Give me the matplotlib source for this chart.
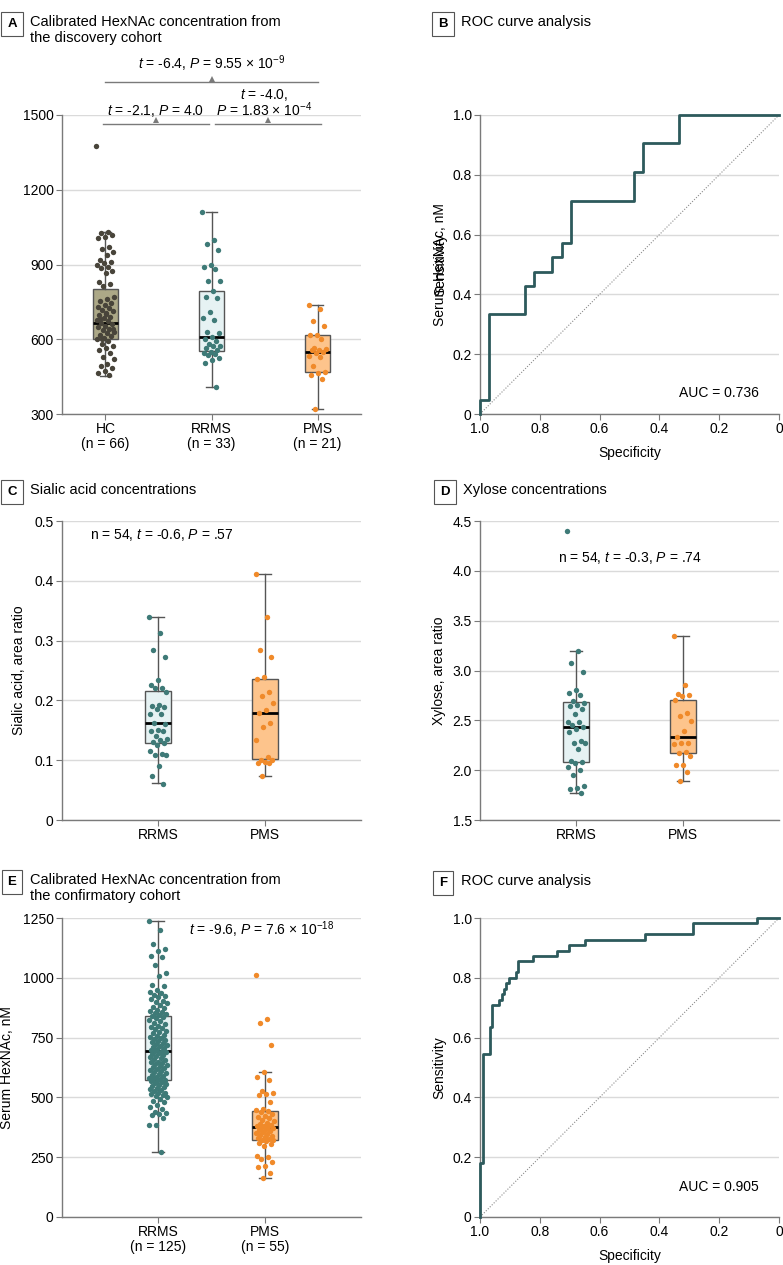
import numpy as np
import matplotlib
matplotlib.use("Agg")
import matplotlib.pyplot as plt

plt.rcParams['font.family'] = ['Liberation Sans', 'DejaVu Sans']
plt.rcParams['mathtext.fontset'] = 'custom'
plt.rcParams['mathtext.rm'] = 'Liberation Sans'
plt.rcParams['mathtext.it'] = 'Liberation Sans:italic'
plt.rcParams['font.size'] = 10

# ---- panel A: discovery cohort, HexNAc (nM)
a_labels = ['HC\n(n = 66)', 'RRMS\n(n = 33)', 'PMS\n(n = 21)']
a_hc = [1374, 1030, 1025, 1018, 1012, 1005, 970, 962, 950, 940, 918, 912, 905, 898, 890,
        885, 875, 865, 828, 820, 815, 770, 762, 755, 745, 738, 730, 725, 718, 712, 705,
        698, 690, 684, 678, 672, 666, 660, 655, 648, 642, 636, 630, 624, 618, 612, 606,
        600, 594, 580, 572, 565, 556, 545, 530, 522, 500, 492, 485, 472, 465, 455, 602,
        640, 700, 680]
a_rrms = [1112, 998, 982, 957, 898, 889, 882, 834, 833, 794, 769, 766, 710, 685, 676, 629,
          625, 608, 601, 592, 581, 574, 572, 565, 556, 548, 545, 542, 538, 525, 518, 505, 409]
a_pms = [736, 722, 675, 652, 618, 616, 601, 565, 561, 558, 556, 550, 545, 534, 527, 494,
         467, 465, 457, 441, 321]
# whisker low, q1, median, q3, whisker high
a_stats = [(451, 601, 665, 803, 1032), (409, 553, 608, 793, 1112), (321, 467, 550, 616, 736)]

# ---- panel B: ROC, discovery cohort
b_spec = [1.0, 1.0, 0.970, 0.848, 0.818, 0.758, 0.727, 0.697, 0.485, 0.455, 0.333, 0.0]
b_sens = [0.0, 0.048, 0.333, 0.429, 0.476, 0.524, 0.571, 0.714, 0.810, 0.905, 1.0, 1.0]

# ---- panel C: sialic acid (area ratio)
c_labels = ['RRMS', 'PMS']
c_rrms = [0.340, 0.313, 0.285, 0.272, 0.234, 0.225, 0.221, 0.221, 0.214, 0.193, 0.190,
          0.189, 0.185, 0.178, 0.178, 0.162, 0.161, 0.151, 0.149, 0.148, 0.141, 0.135,
          0.133, 0.130, 0.128, 0.126, 0.115, 0.110, 0.109, 0.109, 0.091, 0.074, 0.061]
c_pms = [0.411, 0.339, 0.285, 0.272, 0.239, 0.236, 0.214, 0.207, 0.195, 0.184, 0.179,
         0.163, 0.155, 0.133, 0.105, 0.101, 0.100, 0.097, 0.096, 0.095, 0.074]
c_stats = [(0.062, 0.128, 0.162, 0.215, 0.340), (0.074, 0.102, 0.179, 0.235, 0.411)]

# ---- panel D: xylose (area ratio)
d_labels = ['RRMS', 'PMS']
d_rrms = [4.40, 3.20, 3.08, 2.98, 2.80, 2.77, 2.75, 2.69, 2.67, 2.65, 2.64, 2.61, 2.56,
          2.48, 2.48, 2.45, 2.43, 2.41, 2.38, 2.29, 2.27, 2.27, 2.21, 2.09, 2.08, 2.07,
          2.03, 2.00, 1.95, 1.84, 1.82, 1.81, 1.77]
d_pms = [3.35, 2.85, 2.76, 2.75, 2.74, 2.70, 2.57, 2.54, 2.49, 2.39, 2.33, 2.27, 2.27,
         2.26, 2.18, 2.17, 2.14, 2.05, 2.05, 1.98, 1.89]
d_stats = [(1.77, 2.08, 2.43, 2.68, 3.20), (1.89, 2.17, 2.33, 2.70, 3.35)]

# ---- panel E: confirmatory cohort, HexNAc (nM)
e_labels = ['RRMS\n(n = 125)', 'PMS\n(n = 55)']
e_rrms = [1236, 1199, 1141, 1119, 1110, 1090, 1088, 1052, 1018, 1008, 970, 966, 950, 940,
          935, 928, 924, 918, 912, 905, 900, 895, 888, 880, 872, 865, 860, 856, 852, 848,
          845, 840, 835, 830, 825, 818, 812, 806, 800, 795, 790, 784, 778, 772, 768, 762,
          758, 752, 748, 744, 740, 735, 730, 726, 722, 718, 714, 710, 705, 701, 697, 694,
          692, 688, 684, 680, 676, 672, 668, 664, 660, 655, 650, 646, 642, 638, 634, 630,
          626, 622, 618, 614, 610, 606, 602, 598, 594, 590, 586, 582, 579, 576, 574, 572,
          568, 565, 560, 556, 552, 548, 545, 540, 535, 530, 525, 520, 518, 515, 510, 505,
          500, 495, 487, 480, 470, 460, 450, 440, 436, 430, 425, 412, 386, 385, 271]
e_pms = [1010, 826, 812, 718, 606, 584, 574, 525, 520, 515, 510, 480, 452, 448, 445, 438,
         430, 424, 418, 412, 406, 400, 395, 390, 386, 382, 380, 377, 374, 370, 366, 362,
         358, 354, 350, 346, 342, 338, 334, 330, 326, 322, 320, 316, 310, 304, 296, 256,
         250, 243, 232, 214, 209, 183, 164]
e_stats = [(271, 571, 692, 842, 1236), (164, 320, 377, 445, 606)]

# ---- panel F: ROC, confirmatory cohort
f_spec = [1.0, 1.0, 0.991, 0.968, 0.960, 0.935, 0.928, 0.920, 0.912, 0.904, 0.880, 0.872,
          0.823, 0.744, 0.703, 0.648, 0.448, 0.287, 0.072, 0.0]
f_sens = [0.0, 0.182, 0.545, 0.636, 0.709, 0.727, 0.745, 0.764, 0.782, 0.800, 0.818, 0.855,
          0.873, 0.891, 0.909, 0.927, 0.945, 0.982, 1.0, 1.0]

HC_FILL, HC_DOT = '#aca887', '#48443a'
RR_FILL, RR_DOT = '#e6f2f3', '#3e7a77'
PM_FILL, PM_DOT = '#fdc48c', '#f08a2a'
ROC_C = '#2d5a5c'
GRID = '#dadada'
AX_C = '#7a7a7a'

W, H = 783, 1265
fig = plt.figure(figsize=(W / 100, H / 100), dpi=100)


def axes_px(left, top, right, bottom):
    return fig.add_axes([left / W, 1 - bottom / H, (right - left) / W, (bottom - top) / H])


def style(ax):
    ax.grid(axis='y', color=GRID, linewidth=1)
    ax.set_axisbelow(True)
    for s in ['top', 'right']:
        ax.spines[s].set_visible(False)
    for s in ['left', 'bottom']:
        ax.spines[s].set_color(AX_C)
        ax.spines[s].set_linewidth(1)
    ax.tick_params(length=4, color=AX_C, pad=2, labelsize=10)


def box_strip(ax, groups, stats, fills, dots, labels, pad):
    for i, (vals, st, fc, dc) in enumerate(zip(groups, stats, fills, dots)):
        lo, q1, med, q3, hi = st
        ax.bxp([dict(whislo=lo, q1=q1, med=med, q3=q3, whishi=hi, fliers=[])],
               positions=[i], widths=0.24, patch_artist=True, showfliers=False,
               capwidths=[0.11],
               boxprops=dict(facecolor=fc, edgecolor='#555555', linewidth=1),
               medianprops=dict(color='black', linewidth=2),
               whiskerprops=dict(color='#555555', linewidth=1),
               capprops=dict(color='#555555', linewidth=1))
        n = len(vals)
        jit = ((np.arange(n) * 0.618034) % 1 - 0.5) * 0.17
        ax.scatter(i + jit, vals, s=15, color=dc, zorder=3, linewidths=0)
    ax.set_xlim(-pad, len(groups) - 1 + pad)
    ax.set_xticks(range(len(groups)))
    ax.set_xticklabels(labels, linespacing=1.05)
    style(ax)


def roc(ax, spec, sens, auc, auc_y):
    ax.plot([1, 0], [0, 1], ls=(0, (1, 1.5)), color='#8a8a8a', lw=0.8)
    ax.plot(spec, sens, drawstyle='steps-post', color=ROC_C, lw=2, clip_on=False, zorder=3)
    ax.set_xlim(1, 0)
    ax.set_ylim(0, 1)
    ticks = [1.0, 0.8, 0.6, 0.4, 0.2, 0]
    ax.set_xticks(ticks)
    ax.set_xticklabels(['1.0', '0.8', '0.6', '0.4', '0.2', '0'])
    ax.set_yticks(ticks)
    ax.set_yticklabels(['1.0', '0.8', '0.6', '0.4', '0.2', '0'])
    style(ax)
    ax.set_xlabel('Specificity', labelpad=7)
    ax.text(0.2, auc_y, 'AUC = %s' % auc, ha='center', va='center')


def title(x, y, letter, text):
    fig.text(x / W, 1 - y / H, letter, ha='center', va='center', fontweight='bold',
             fontsize=9.5,
             bbox=dict(boxstyle='square,pad=0.45', fc='white', ec='#555555', lw=0.8))
    fig.text((x + 18) / W, 1 - (y - 9) / H, text, ha='left', va='top', linespacing=1.2,
             fontsize=10.5)


# A
ax = axes_px(62, 115, 361, 414)
box_strip(ax, [a_hc, a_rrms, a_pms], a_stats, [HC_FILL, RR_FILL, PM_FILL],
          [HC_DOT, RR_DOT, PM_DOT], a_labels, 0.41)
ax.set_ylim(300, 1500)
ax.set_yticks([300, 600, 900, 1200, 1500])
for x0, x1, y in [(0, 2, 1632), (-0.02, 0.98, 1464), (1.03, 2.03, 1464)]:
    ax.plot([x0, x1], [y, y], color=AX_C, lw=1, clip_on=False)
    ax.plot([(x0 + x1) / 2], [y + 14], marker='^', ms=5, color=AX_C, clip_on=False, mew=0)
ax.text(1.0, 1705, '$t$ = -6.4, $P$ = 9.55 × 10$^{-9}$', ha='center', va='center')
ax.text(0.47, 1518, '$t$ = -2.1, $P$ = 4.0', ha='center', va='center')
ax.text(1.5, 1580, '$t$ = -4.0,', ha='center', va='center')
ax.text(1.5, 1520, '$P$ = 1.83 × 10$^{-4}$', ha='center', va='center')
title(12, 24, 'A', 'Calibrated HexNAc concentration from\nthe discovery cohort')

# B
ax = axes_px(480, 115, 779, 414)
roc(ax, b_spec, b_sens, '0.736', 0.07)
ax.text(-0.134, 0.5, 'Sensitivity', rotation=90, ha='center', va='center', transform=ax.transAxes)
ax.text(-0.134, 0.5, 'Serum HexNAc, nM', rotation=90, ha='center', va='center',
        transform=ax.transAxes)
title(443, 24, 'B', 'ROC curve analysis')

# C
ax = axes_px(62, 521, 361, 820)
box_strip(ax, [c_rrms, c_pms], c_stats, [RR_FILL, PM_FILL], [RR_DOT, PM_DOT], c_labels, 0.9)
ax.set_ylim(0, 0.5)
ax.set_yticks([0, 0.1, 0.2, 0.3, 0.4, 0.5])
ax.set_yticklabels(['0', '0.1', '0.2', '0.3', '0.4', '0.5'])
ax.set_ylabel('Sialic acid, area ratio')
ax.yaxis.set_label_coords(-0.12, 0.5)
ax.text(-0.64, 0.477, 'n = 54, $t$ = -0.6, $P$ = .57', ha='left', va='center')
title(12, 492, 'C', 'Sialic acid concentrations')

# D
ax = axes_px(480, 521, 779, 820)
box_strip(ax, [d_rrms, d_pms], d_stats, [RR_FILL, PM_FILL], [RR_DOT, PM_DOT], d_labels, 0.9)
ax.set_ylim(1.5, 4.5)
ax.set_yticks([1.5, 2.0, 2.5, 3.0, 3.5, 4.0, 4.5])
ax.set_yticklabels(['1.5', '2.0', '2.5', '3.0', '3.5', '4.0', '4.5'])
ax.set_ylabel('Xylose, area ratio')
ax.yaxis.set_label_coords(-0.114, 0.5)
ax.text(0.5, 4.13, 'n = 54, $t$ = -0.3, $P$ = .74', ha='center', va='center')
title(445, 492, 'D', 'Xylose concentrations')

# E
ax = axes_px(62, 918, 361, 1217)
box_strip(ax, [e_rrms, e_pms], e_stats, [RR_FILL, PM_FILL], [RR_DOT, PM_DOT], e_labels, 0.9)
ax.set_ylim(0, 1250)
ax.set_yticks([0, 250, 500, 750, 1000, 1250])
ax.set_ylabel('Serum HexNAc, nM')
ax.yaxis.set_label_coords(-0.16, 0.5)
ax.text(0.29, 1201, '$t$ = -9.6, $P$ = 7.6 × 10$^{-18}$', ha='left', va='center')
title(12, 882, 'E', 'Calibrated HexNAc concentration from\nthe confirmatory cohort')

# F
ax = axes_px(480, 918, 779, 1217)
roc(ax, f_spec, f_sens, '0.905', 0.10)
ax.set_ylabel('Sensitivity')
ax.yaxis.set_label_coords(-0.114, 0.5)
title(443, 883, 'F', 'ROC curve analysis')

fig.savefig('out.png', dpi=100)
